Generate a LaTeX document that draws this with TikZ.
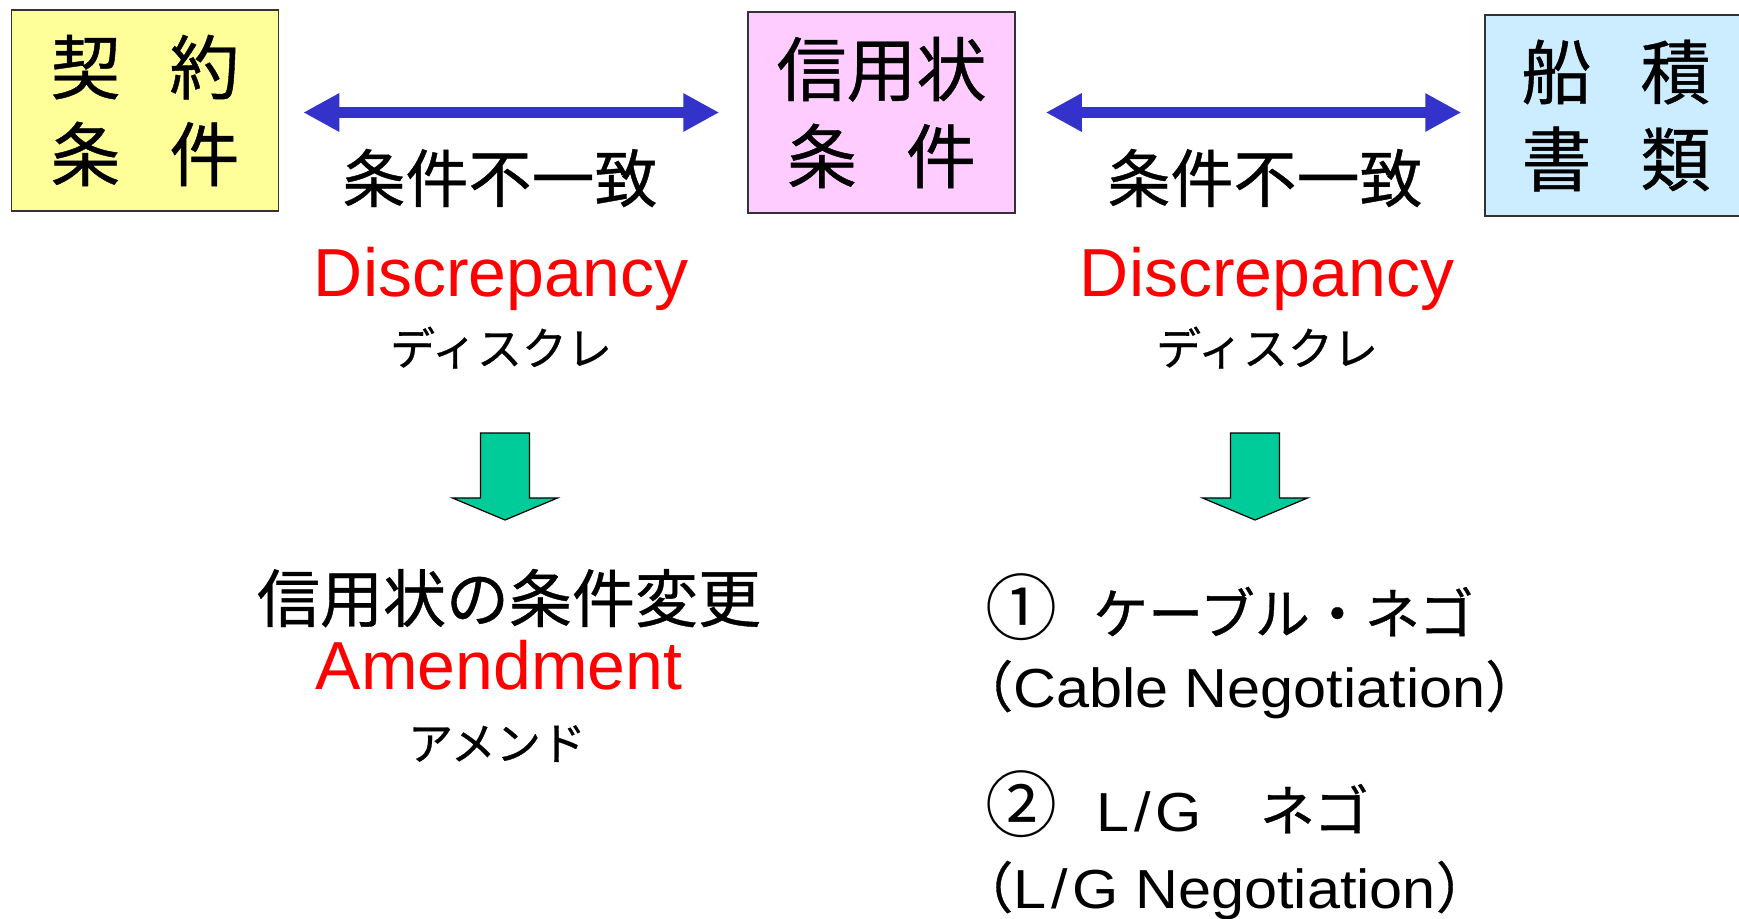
\documentclass[tikz,border=0pt]{standalone}
\usepackage{fontspec}
\setmainfont{Liberation Sans}
\newfontfamily\jp[FakeBold=0.6]{Noto Sans CJK JP}
\newfontfamily\jpthin{Noto Sans CJK JP}
\newfontfamily\widelatin[FakeStretch=1.08]{Liberation Sans}
\usetikzlibrary{arrows.meta, positioning}
\definecolor{boxyellow}{RGB}{255,255,153}
\definecolor{boxpink}{RGB}{255,204,255}
\definecolor{boxblue}{RGB}{204,236,255}
\definecolor{arrowblue}{RGB}{51,51,204}
\definecolor{arrowgreen}{RGB}{0,204,153}
\definecolor{discred}{RGB}{255,0,0}
\tikzstyle{termbox} = [draw=black!80, line width=1.5pt, minimum width=267pt, minimum height=201pt, inner sep=0pt, align=center, font=\jp\fontsize{70}{87}\selectfont]
\tikzstyle{dblarrow} = [arrowblue, line width=11pt, {Triangle[length=36pt,width=36pt]}-{Triangle[length=36pt,width=36pt]}]
\tikzstyle{downarrow} = [draw=black, line width=1.2pt, fill=arrowgreen, line join=miter]
\tikzstyle{jpbig} = [anchor=base, inner sep=0pt, font=\jp\fontsize{63}{70}\selectfont]
\tikzstyle{jpsmall} = [anchor=base, inner sep=0pt, font=\jp\fontsize{45}{50}\selectfont]
\tikzstyle{jplist} = [anchor=base west, inner sep=0pt, font=\jp\fontsize{55}{60}\selectfont]
\tikzstyle{engred} = [anchor=base, inner sep=0pt, text=discred, font=\fontsize{68}{75}\selectfont]
\newcommand{\bignum}[1]{{\jpthin\fontsize{72}{60}\selectfont #1}}
\newcommand{\LGtext}{{\widelatin L\kern5pt/\kern5pt G}}

\begin{document}
\begin{tikzpicture}[x=1pt, y=-1pt]
    \fill[white] (0,0) rectangle (1739,918);
    \clip (0,0) rectangle (1739,918);
    % the three sets of terms
    \node[termbox, fill=boxyellow] (contract) at (145,110.5) {契\hspace{0.7em}約\\条\hspace{0.7em}件};
    \node[termbox, fill=boxpink] (lc) at (881.5,112.5) {信用状\\条\hspace{0.7em}件};
    \node[termbox, fill=boxblue, minimum width=262pt] (docs) at (1616,115.5) {船\hspace{0.7em}積\\書\hspace{0.7em}類};
    \draw[dblarrow, shorten <=24pt, shorten >=28pt] (contract.east |- lc.west) -- (lc.west);
    \draw[dblarrow, shorten <=30pt, shorten >=23pt] (lc.east) -- (lc.east -| docs.west);
    % discrepancy labels
    \node[jpbig] (mis1) at (500,202) {条件不一致};
    \node[engred] (disc1) at (501,296) {Discrepancy};
    \node[jpsmall] (kana1) at (501,365) {ディスクレ};
    \node[jpbig] (mis2) at (1265,202) {条件不一致};
    \node[engred] (disc2) at (1267,296) {Discrepancy};
    \node[jpsmall] (kana2) at (1267,365) {ディスクレ};
    % down arrows
    \foreach \cx in {505,1255}
        \draw[downarrow] (\cx-24.5,433) -- (\cx+24.5,433) -- (\cx+24.5,498) -- (\cx+52.5,498)
            -- (\cx,520) -- (\cx-52.5,498) -- (\cx-24.5,498) -- cycle;
    % outcomes
    \node[jpbig] (amendjp) at (509,622) {信用状の条件変更};
    \node[engred] (amend) at (499,689) {Amendment};
    \node[jpsmall] (amendkana) at (497,760) {アメンド};
    \node[jplist] (cable) at (985,634) {\bignum{①}\hspace{36pt}ケーブル・ネゴ};
    \node[jplist] (cableen) at (958,707) {（{\widelatin Cable Negotiation}）};
    \node[jplist] (lg) at (985,831) {\bignum{②}\hspace{39pt}\LGtext\hspace{58pt}ネゴ};
    \node[jplist] (lgen) at (958,908) {（\LGtext{\widelatin\ Negotiation}）};
\end{tikzpicture}
\end{document}
